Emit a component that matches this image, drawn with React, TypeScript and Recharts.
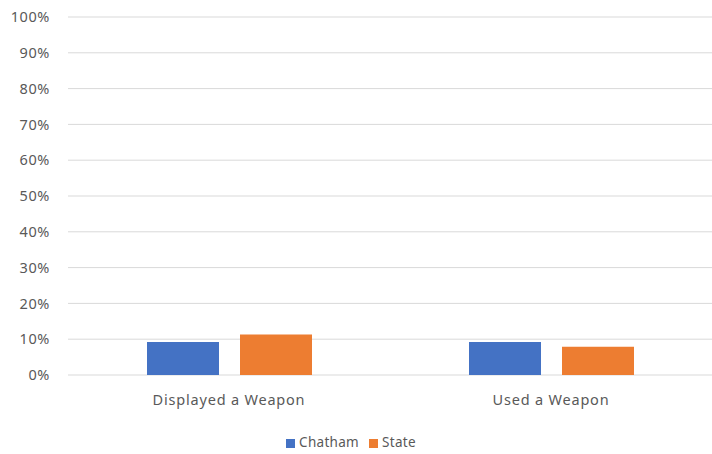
import React from 'react';
import { BarChart, Bar, XAxis, YAxis, CartesianGrid, Legend } from 'recharts';

const categories = ['Displayed a Weapon', 'Used a Weapon'];
const chatham = [9.2, 9.2];
const state = [11.3, 7.9];
const yTicks = [0, 10, 20, 30, 40, 50, 60, 70, 80, 90, 100];

const data = categories.map((name, i) => ({ name, chatham: chatham[i], state: state[i] }));

const font = '"Noto Sans", sans-serif';
const textColor = '#595959';

const App = () => {
    return (
        <div style={{ position: 'absolute', left: 0, top: 0, width: 712, height: 454, background: '#fff', fontFamily: font }}>
            <BarChart
                width={712}
                height={454}
                data={data}
                margin={{ top: 17, right: 0, left: 0, bottom: 8 }}
                barGap={21}
                barCategoryGap="24%"
            >
                <CartesianGrid vertical={false} stroke="#d9d9d9" />
                <XAxis
                    dataKey="name"
                    axisLine={false}
                    tickLine={false}
                    tickMargin={14}
                    height={44}
                    tick={{ fontSize: 14.5, fill: textColor, fontFamily: font, letterSpacing: 0.8 }}
                />
                <YAxis
                    width={68}
                    domain={[0, 100]}
                    ticks={yTicks}
                    interval={0}
                    axisLine={false}
                    tickLine={false}
                    tickMargin={12}
                    tickFormatter={(v) => `${v}%`}
                    tick={{ fontSize: 14.5, fill: textColor, fontFamily: font, letterSpacing: 0.6 }}
                />
                <Legend
                    verticalAlign="bottom"
                    iconType="square"
                    iconSize={9}
                    height={27}
                    wrapperStyle={{ top: 433, fontSize: 13.5, color: textColor, fontFamily: font, letterSpacing: 0.3 }}
                    formatter={(value) => <span style={{ color: textColor }}>{value}</span>}
                />
                <Bar dataKey="chatham" name="Chatham" fill="#4472c4" barSize={72} isAnimationActive={false} />
                <Bar dataKey="state" name="State" fill="#ed7d31" barSize={72} isAnimationActive={false} />
            </BarChart>
        </div>
    );
};

export default App;
